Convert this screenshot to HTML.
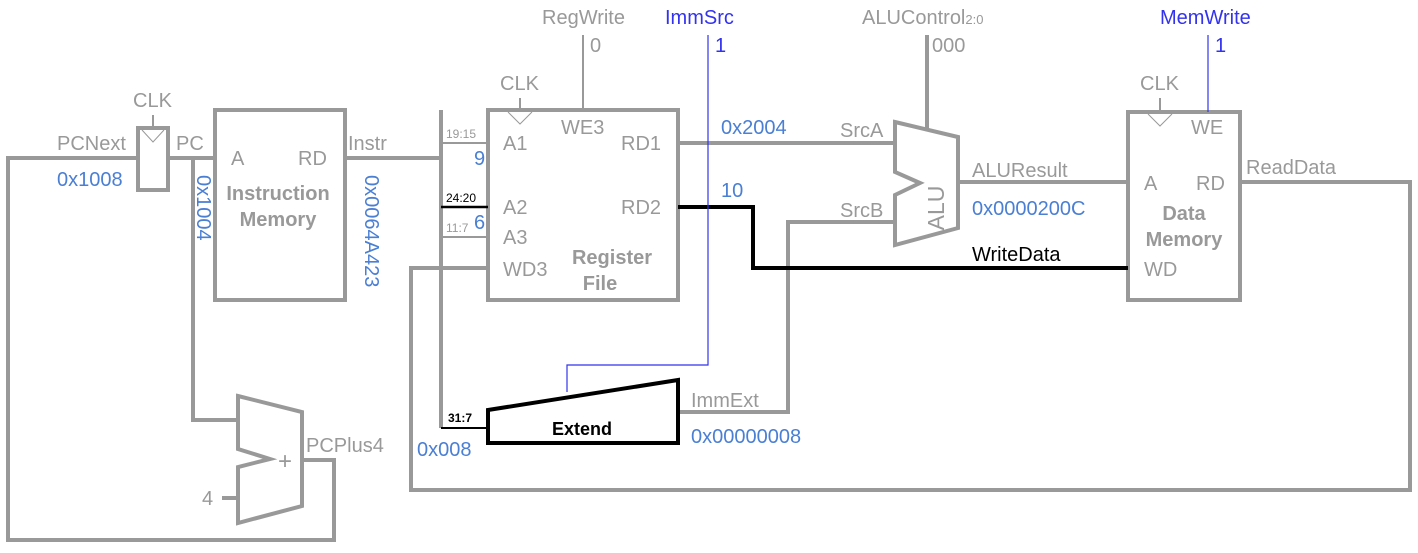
<!DOCTYPE html>
<html><head><style>
body{margin:0;background:#fff}
svg{display:block}
text{font-family:"Liberation Sans",sans-serif}
</style></head><body>
<svg width="1418" height="553" viewBox="0 0 1418 553" xmlns="http://www.w3.org/2000/svg">
<g fill="none" stroke="#999" stroke-width="4">
<polyline points="138,158 8,158 8,540 334,540 334,460 302,460"/>
<rect x="138" y="128" width="30" height="62"/>
<polyline points="168,158 215,158"/>
<polyline points="193,158 193,420 238,420"/>
<line x1="222" y1="498" x2="238" y2="498"/>
<polygon points="238,396 302,412 302,506 238,523 238,467 270,459 238,449"/>
<rect x="215" y="110" width="130" height="190"/>
<line x1="345" y1="158" x2="441" y2="158"/>
<line x1="441" y1="110" x2="441" y2="428"/>
<rect x="488" y="110" width="190" height="190"/>
<polyline points="488,268 411,268 411,490 1410,490 1410,182 1240,182"/>
<line x1="678" y1="143" x2="895" y2="143"/>
<polyline points="895,222 788,222 788,412 678,412"/>
<polygon points="895,122 958,137 958,228 895,245 895,195 920,183 895,172"/>
<line x1="958" y1="182" x2="1128" y2="182"/>
<rect x="1128" y="112" width="112" height="188"/>
<line x1="927" y1="35" x2="927" y2="128"/>
</g>
<g stroke="#999" stroke-width="2" fill="none">
<line x1="441" y1="143" x2="488" y2="143"/>
<line x1="441" y1="237" x2="488" y2="237"/>
<line x1="583" y1="35" x2="583" y2="110"/>
<line x1="153" y1="115" x2="153" y2="130"/>
<line x1="520" y1="98" x2="520" y2="112"/>
<line x1="1160" y1="98" x2="1160" y2="114"/>
</g>
<g stroke="#999" stroke-width="1" fill="none">
<polyline points="142,130 153,142 164,130"/>
<polyline points="508,112 520,124 532,112"/>
<polyline points="1148,114 1160,126 1172,114"/>
</g>
<g stroke="#000" fill="none">
<line x1="441" y1="207" x2="488" y2="207" stroke-width="2.5"/>
<line x1="441" y1="428" x2="488" y2="428" stroke-width="2"/>
<polyline points="678,207 753,207 753,268 1128,268" stroke-width="4"/>
<polygon points="488,410 678,380 678,443 488,443" stroke-width="4"/>
</g>
<g stroke="#3333ee" stroke-width="1.2" fill="none">
<polyline points="708,35 708,365 567,365 567,392"/>
<line x1="1208" y1="35" x2="1208" y2="112"/>
</g>
<g fill="#999" font-size="20">
<text x="57" y="150">PCNext</text>
<text x="133" y="107">CLK</text>
<text x="176" y="150">PC</text>
<text x="231" y="165">A</text>
<text x="298" y="165">RD</text>
<text x="348" y="150">Instr</text>
<text x="500" y="90">CLK</text>
<text x="1140" y="90">CLK</text>
<text x="542" y="24">RegWrite</text>
<text x="590" y="52">0</text>
<text x="862" y="24">ALUControl<tspan font-size="13">2:0</tspan></text>
<text x="932" y="52">000</text>
<text x="503" y="150">A1</text>
<text x="503" y="214">A2</text>
<text x="503" y="244">A3</text>
<text x="503" y="276">WD3</text>
<text x="561" y="134">WE3</text>
<text x="621" y="150">RD1</text>
<text x="621" y="214">RD2</text>
<text x="840" y="137">SrcA</text>
<text x="840" y="217">SrcB</text>
<text x="972" y="177">ALUResult</text>
<text x="1144" y="190">A</text>
<text x="1196" y="190">RD</text>
<text x="1144" y="276">WD</text>
<text x="1191" y="134">WE</text>
<text x="1246" y="174">ReadData</text>
<text x="691" y="407">ImmExt</text>
<text x="306" y="452">PCPlus4</text>
<text x="202" y="505">4</text>
<text x="278" y="469" font-size="24">+</text>
<text x="944" y="208" font-size="23" transform="rotate(-90 944 208)" text-anchor="middle">ALU</text>
</g>
<g fill="#999" font-size="20" font-weight="bold" text-anchor="middle">
<text x="278" y="200">Instruction</text>
<text x="278" y="226">Memory</text>
<text x="612" y="264">Register</text>
<text x="600" y="290">File</text>
<text x="1184" y="220">Data</text>
<text x="1184" y="246">Memory</text>
</g>
<g fill="#999" font-size="12">
<text x="446" y="138">19:15</text>
<text x="446" y="232">11:7</text>
</g>
<g fill="#000" font-size="12">
<text x="446" y="202">24:20</text>
<text x="448" y="422" font-weight="bold">31:7</text>
</g>
<text x="552" y="435" font-size="18" font-weight="bold" fill="#000">Extend</text>
<text x="972" y="261" font-size="20" fill="#000">WriteData</text>
<g fill="#3333ee" font-size="20">
<text x="665" y="24">ImmSrc</text>
<text x="715" y="52">1</text>
<text x="1160" y="24">MemWrite</text>
<text x="1215" y="52">1</text>
</g>
<g fill="#4a7fd4" font-size="20">
<text x="57" y="186">0x1008</text>
<text x="474" y="165">9</text>
<text x="474" y="229">6</text>
<text x="721" y="134">0x2004</text>
<text x="721" y="197">10</text>
<text x="972" y="215">0x0000200C</text>
<text x="417" y="456">0x008</text>
<text x="691" y="443">0x00000008</text>
<text x="197" y="175" transform="rotate(90 197 175)">0x1004</text>
<text x="365" y="175" transform="rotate(90 365 175)">0x0064A423</text>
</g>
</svg>
</body></html>
